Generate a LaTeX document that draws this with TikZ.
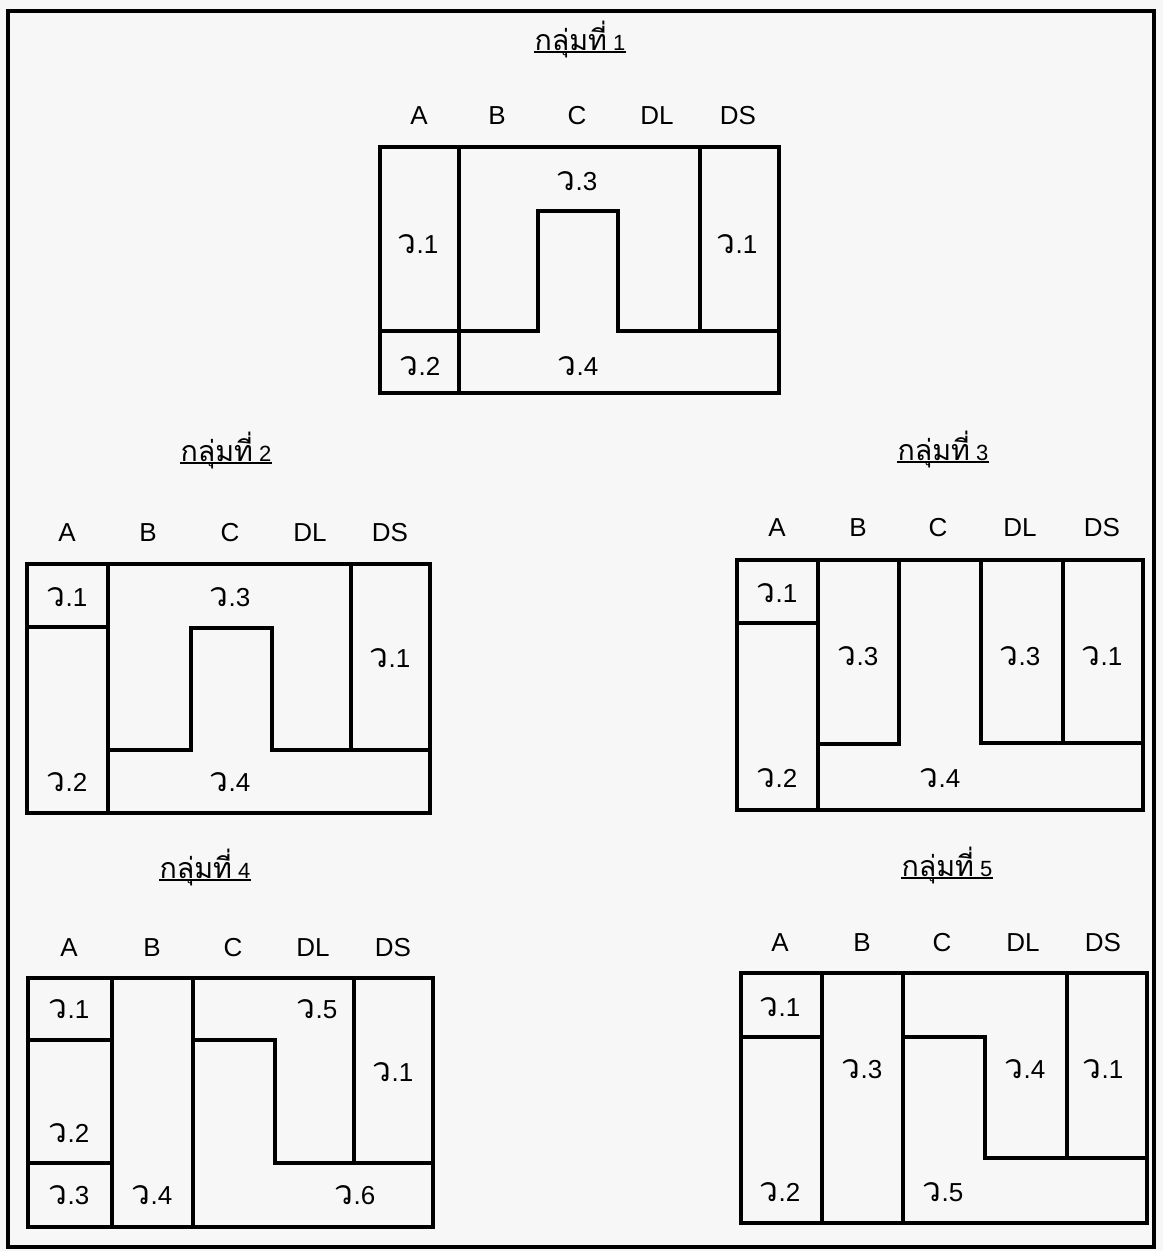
\documentclass[tikz,border=0pt]{standalone}
\usepackage{fontspec}
\setmainfont{Liberation Sans}
\newfontfamily\thaifont[Script=Thai, Scale=1.3]{Loma}
\usetikzlibrary{positioning}

\begin{document}
\begin{tikzpicture}[
  x=1pt, y=-1pt,
  font=\fontsize{26}{30}\selectfont,
  wall/.style={line width=3.5pt, line cap=rect},
  frame/.style={line width=3.5pt},
  hdr/.style={anchor=base, inner sep=0pt},
  zone/.style={anchor=base, inner sep=0pt},
  ttl/.style={anchor=base, inner sep=0pt, font=\fontsize{22}{26}\selectfont},
  uline/.style={line width=1.8pt},
]
\fill[black!3] (0,0) rectangle (1163,1251);
\useasboundingbox (0,0) rectangle (1163,1251);
\draw[frame] (8,11) rectangle (1154,1247);
% ---------------- group 1 -----------------
\node[ttl] (t1) at (580,50) {{\thaifont กลุ่มที่} 1};
\draw[uline] ([yshift=-2pt]t1.base west) -- ([yshift=-2pt]t1.base east);
\node[hdr] (g1a) at (419,124) {A};
\node[hdr] (g1b) at (497,124) {B};
\node[hdr] (g1c) at (577,124) {C};
\node[hdr] (g1dl) at (657,124) {DL};
\node[hdr] (g1ds) at (738,124) {DS};
\draw[wall] (380,147) rectangle (779,393);
\draw[wall] (459,147) -- (459,393);
\draw[wall] (380,331) -- (538,331) -- (538,211) -- (618,211) -- (618,331) -- (779,331);
\draw[wall] (700,147) -- (700,331);
\node[zone] (g1z3) at (577,190) {{\thaifont ว}.3};
\node[zone] (g1z1a) at (418,253) {{\thaifont ว}.1};
\node[zone] (g1z1b) at (737,253) {{\thaifont ว}.1};
\node[zone] (g1z2) at (420,375) {{\thaifont ว}.2};
\node[zone] (g1z4) at (578,375) {{\thaifont ว}.4};
% ---------------- group 2 -----------------
\node[ttl] (t2) at (226,461) {{\thaifont กลุ่มที่} 2};
\draw[uline] ([yshift=-2pt]t2.base west) -- ([yshift=-2pt]t2.base east);
\node[hdr] (g2a) at (67,541) {A};
\node[hdr] (g2b) at (148,541) {B};
\node[hdr] (g2c) at (230,541) {C};
\node[hdr] (g2dl) at (310,541) {DL};
\node[hdr] (g2ds) at (390,541) {DS};
\draw[wall] (27,564) rectangle (430,813);
\draw[wall] (108,564) -- (108,813);
\draw[wall] (27,627) -- (108,627);
\draw[wall] (108,750) -- (191,750) -- (191,628) -- (272,628) -- (272,750) -- (430,750);
\draw[wall] (351,564) -- (351,750);
\node[zone] (g2z1a) at (67,606) {{\thaifont ว}.1};
\node[zone] (g2z3) at (230,606) {{\thaifont ว}.3};
\node[zone] (g2z1b) at (390,667) {{\thaifont ว}.1};
\node[zone] (g2z2) at (67,791) {{\thaifont ว}.2};
\node[zone] (g2z4) at (230,791) {{\thaifont ว}.4};
% ---------------- group 3 -----------------
\node[ttl] (t3) at (943,460) {{\thaifont กลุ่มที่} 3};
\draw[uline] ([yshift=-2pt]t3.base west) -- ([yshift=-2pt]t3.base east);
\node[hdr] (g3a) at (777,536) {A};
\node[hdr] (g3b) at (858,536) {B};
\node[hdr] (g3c) at (938,536) {C};
\node[hdr] (g3dl) at (1020,536) {DL};
\node[hdr] (g3ds) at (1102,536) {DS};
\draw[wall] (737,560) rectangle (1143,810);
\draw[wall] (818,560) -- (818,810);
\draw[wall] (737,623) -- (818,623);
\draw[wall] (818,744) -- (899,744) -- (899,560);
\draw[wall] (981,560) -- (981,743) -- (1143,743);
\draw[wall] (1063,560) -- (1063,743);
\node[zone] (g3z1a) at (777,602) {{\thaifont ว}.1};
\node[zone] (g3z3a) at (858,665) {{\thaifont ว}.3};
\node[zone] (g3z3b) at (1020,665) {{\thaifont ว}.3};
\node[zone] (g3z1b) at (1102,665) {{\thaifont ว}.1};
\node[zone] (g3z2) at (777,787) {{\thaifont ว}.2};
\node[zone] (g3z4) at (940,787) {{\thaifont ว}.4};
% ---------------- group 4 -----------------
\node[ttl] (t4) at (205,878) {{\thaifont กลุ่มที่} 4};
\draw[uline] ([yshift=-2pt]t4.base west) -- ([yshift=-2pt]t4.base east);
\node[hdr] (g4a) at (69,956) {A};
\node[hdr] (g4b) at (152,956) {B};
\node[hdr] (g4c) at (233,956) {C};
\node[hdr] (g4dl) at (313,956) {DL};
\node[hdr] (g4ds) at (393,956) {DS};
\draw[wall] (28,978) rectangle (433,1227);
\draw[wall] (112,978) -- (112,1227);
\draw[wall] (193,978) -- (193,1227);
\draw[wall] (28,1040) -- (112,1040);
\draw[wall] (28,1163) -- (112,1163);
\draw[wall] (193,1040) -- (275,1040) -- (275,1163) -- (433,1163);
\draw[wall] (354,978) -- (354,1163);
\node[zone] (g4z1a) at (69,1018) {{\thaifont ว}.1};
\node[zone] (g4z5) at (317,1018) {{\thaifont ว}.5};
\node[zone] (g4z1b) at (393,1081) {{\thaifont ว}.1};
\node[zone] (g4z2) at (69,1142) {{\thaifont ว}.2};
\node[zone] (g4z3) at (69,1204) {{\thaifont ว}.3};
\node[zone] (g4z4) at (152,1204) {{\thaifont ว}.4};
\node[zone] (g4z6) at (355,1204) {{\thaifont ว}.6};
% ---------------- group 5 -----------------
\node[ttl] (t5) at (947,876) {{\thaifont กลุ่มที่} 5};
\draw[uline] ([yshift=-2pt]t5.base west) -- ([yshift=-2pt]t5.base east);
\node[hdr] (g5a) at (780,951) {A};
\node[hdr] (g5b) at (862,951) {B};
\node[hdr] (g5c) at (942,951) {C};
\node[hdr] (g5dl) at (1023,951) {DL};
\node[hdr] (g5ds) at (1103,951) {DS};
\draw[wall] (741,973) rectangle (1147,1223);
\draw[wall] (822,973) -- (822,1223);
\draw[wall] (903,973) -- (903,1223);
\draw[wall] (741,1037) -- (822,1037);
\draw[wall] (903,1037) -- (985,1037) -- (985,1158) -- (1147,1158);
\draw[wall] (1067,973) -- (1067,1158);
\node[zone] (g5z1a) at (780,1016) {{\thaifont ว}.1};
\node[zone] (g5z3) at (862,1078) {{\thaifont ว}.3};
\node[zone] (g5z4) at (1025,1078) {{\thaifont ว}.4};
\node[zone] (g5z1b) at (1103,1078) {{\thaifont ว}.1};
\node[zone] (g5z2) at (780,1201) {{\thaifont ว}.2};
\node[zone] (g5z5) at (943,1201) {{\thaifont ว}.5};
\end{tikzpicture}
\end{document}
